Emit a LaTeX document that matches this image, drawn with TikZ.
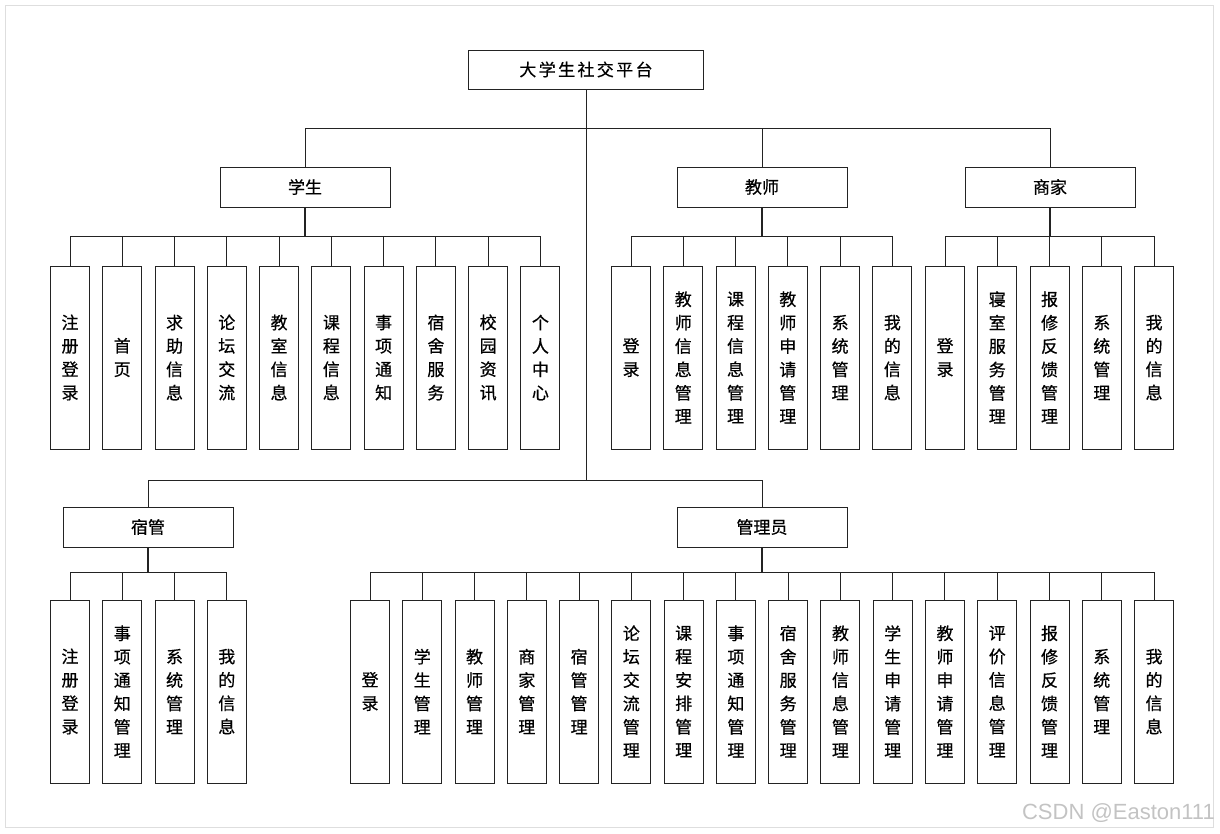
\documentclass[tikz,border=0pt]{standalone}
\usepackage{fontspec}
\newfontfamily\cjk[FakeBold=0.6]{Noto Sans CJK SC}
\newfontfamily\cjkwide[LetterSpace=14,FakeBold=0.6]{Noto Sans CJK SC}
\newfontfamily\marksans{Liberation Sans}
\usetikzlibrary{positioning,calc}
\definecolor{lineblack}{RGB}{35,35,35}
\definecolor{framegray}{RGB}{222,222,222}
\definecolor{markgray}{RGB}{195,195,195}
\tikzset{
  headbox/.style={draw=lineblack, line width=1pt, minimum width=170pt, minimum height=40pt, inner sep=0pt, font=\cjk\fontsize{17}{20}\selectfont},
  leafbox/.style={draw=lineblack, line width=1pt, minimum width=39pt, minimum height=183pt, inner sep=0pt, align=center, font=\cjk\fontsize{17}{23.4}\selectfont},
  link/.style={draw=lineblack, line width=1pt},
  stem/.style={draw=lineblack, line width=1.7pt},
}

\begin{document}
\begin{tikzpicture}[x=1pt,y=-1pt]
\useasboundingbox (0,0) rectangle (1220,833);
\draw[framegray] (5,5) rectangle (1213,827);
% root and second level
\node[headbox, minimum width=235pt, minimum height=39pt, font=\cjkwide\fontsize{17}{20}\selectfont] (root) at (586,69.5) {大学生社交平台};
\node[headbox] (stu) at (305,187) {学生};
\node[headbox] (tea) at (762,187) {教师};
\node[headbox] (mer) at (1050,187) {商家};
\node[headbox] (dorm) at (148,527) {宿管};
\node[headbox] (adm) at (762,527) {管理员};
\foreach \h in {stu,tea,mer}
  \draw[link] (root.south) -- ++(0,39) -| (\h.north);
\foreach \h in {dorm,adm}
  \draw[link] (root.south) -- ++(0,391) -| (\h.north);
% student
\foreach \txt [count=\i] in {{注\\册\\登\\录},{首\\页},{求\\助\\信\\息},{论\\坛\\交\\流},{教\\室\\信\\息},{课\\程\\信\\息},{事\\项\\通\\知},{宿\\舍\\服\\务},{校\\园\\资\\讯},{个\\人\\中\\心}} {
  \node[leafbox] (stu\i) at ({70+52.27*(\i-1)},357.5) {\txt};
  \draw[link] (stu.south) -- ++(0,29) -| (stu\i.north);
}
\draw[stem] (stu.south) -- ++(0,29);
% teacher
\foreach \txt [count=\i] in {{登\\录},{教\\师\\信\\息\\管\\理},{课\\程\\信\\息\\管\\理},{教\\师\\申\\请\\管\\理},{系\\统\\管\\理},{我\\的\\信\\息}} {
  \node[leafbox] (tea\i) at ({631+52.27*(\i-1)},357.5) {\txt};
  \draw[link] (tea.south) -- ++(0,29) -| (tea\i.north);
}
\draw[stem] (tea.south) -- ++(0,29);
% merchant
\foreach \txt [count=\i] in {{登\\录},{寝\\室\\服\\务\\管\\理},{报\\修\\反\\馈\\管\\理},{系\\统\\管\\理},{我\\的\\信\\息}} {
  \node[leafbox] (mer\i) at ({945+52.27*(\i-1)},357.5) {\txt};
  \draw[link] (mer.south) -- ++(0,29) -| (mer\i.north);
}
\draw[stem] (mer.south) -- ++(0,29);
% dorm manager
\foreach \txt [count=\i] in {{注\\册\\登\\录},{事\\项\\通\\知\\管\\理},{系\\统\\管\\理},{我\\的\\信\\息}} {
  \node[leafbox] (dorm\i) at ({70+52.27*(\i-1)},691.5) {\txt};
  \draw[link] (dorm.south) -- ++(0,25) -| (dorm\i.north);
}
\draw[stem] (dorm.south) -- ++(0,25);
% admin
\foreach \txt [count=\i] in {{登\\录},{学\\生\\管\\理},{教\\师\\管\\理},{商\\家\\管\\理},{宿\\管\\管\\理},{论\\坛\\交\\流\\管\\理},{课\\程\\安\\排\\管\\理},{事\\项\\通\\知\\管\\理},{宿\\舍\\服\\务\\管\\理},{教\\师\\信\\息\\管\\理},{学\\生\\申\\请\\管\\理},{教\\师\\申\\请\\管\\理},{评\\价\\信\\息\\管\\理},{报\\修\\反\\馈\\管\\理},{系\\统\\管\\理},{我\\的\\信\\息}} {
  \node[leafbox] (adm\i) at ({370+52.27*(\i-1)},691.5) {\txt};
  \draw[link] (adm.south) -- ++(0,25) -| (adm\i.north);
}
\draw[stem] (adm.south) -- ++(0,25);
\node[anchor=south east, inner sep=0pt, text=markgray, font=\marksans\fontsize{22}{24}\selectfont] (mark) at (1215,823) {CSDN @Easton111};
\end{tikzpicture}
\end{document}
